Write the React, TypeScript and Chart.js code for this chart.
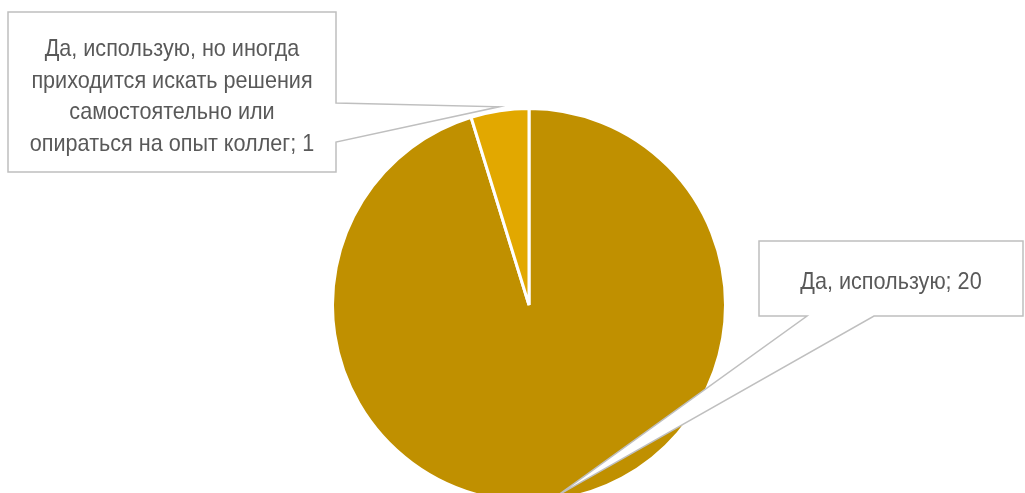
import React, { useEffect, useRef } from "react";
import { Chart, registerables } from "chart.js";

Chart.register(...registerables);

const categories = [
  "Да, использую",
  "Да, использую, но иногда приходится искать решения самостоятельно или опираться на опыт коллег",
];
const values = [20, 1];
const colors = ["#C09000", "#E2A800"];
const labelLines = [
  ["Да, использую; 20"],
  ["Да, использую, но иногда", "приходится искать решения", "самостоятельно или", "опираться на опыт коллег; 1"],
];

export default function App() {
  const ref = useRef<HTMLCanvasElement>(null);
  useEffect(() => {
    if (!ref.current) return;
    const callouts = {
      id: "callouts",
      afterDraw(chart: any) {
        const ctx = chart.ctx;
        const meta = chart.getDatasetMeta(0);
        const boxes = [
          { x: 759, y: 241, w: 264, h: 75, base: [807, 874], side: "bottom", tipR: 0.98, dy: 4 },
          { x: 8, y: 12, w: 328, h: 160, base: [103, 142], side: "right", tipR: 1.02, dy: 5 },
        ];
        ctx.save();
        meta.data.forEach((arc: any, i: number) => {
          const b = boxes[i];
          const mid = (arc.startAngle + arc.endAngle) / 2;
          const tx = arc.x + Math.cos(mid) * arc.outerRadius * b.tipR;
          const ty = arc.y + Math.sin(mid) * arc.outerRadius * b.tipR;
          ctx.beginPath();
          if (b.side === "bottom") {
            ctx.moveTo(b.x, b.y);
            ctx.lineTo(b.x + b.w, b.y);
            ctx.lineTo(b.x + b.w, b.y + b.h);
            ctx.lineTo(b.base[1], b.y + b.h);
            ctx.lineTo(tx, ty);
            ctx.lineTo(b.base[0], b.y + b.h);
            ctx.lineTo(b.x, b.y + b.h);
          } else {
            ctx.moveTo(b.x, b.y);
            ctx.lineTo(b.x + b.w, b.y);
            ctx.lineTo(b.x + b.w, b.base[0]);
            ctx.lineTo(tx, ty);
            ctx.lineTo(b.x + b.w, b.base[1]);
            ctx.lineTo(b.x + b.w, b.y + b.h);
            ctx.lineTo(b.x, b.y + b.h);
          }
          ctx.closePath();
          ctx.fillStyle = "#FFFFFF";
          ctx.fill();
          ctx.strokeStyle = "#BFBFBF";
          ctx.lineWidth = 1.5;
          ctx.stroke();
          ctx.fillStyle = "#595959";
          ctx.font = "24px 'Liberation Sans', Arial";
          ctx.textAlign = "center";
          ctx.textBaseline = "middle";
          const lines = labelLines[i];
          const lh = 31.7;
          const cx = b.x + b.w / 2;
          const cy = b.y + b.h / 2 - ((lines.length - 1) * lh) / 2 + b.dy;
          lines.forEach((t, k) => {
            ctx.save();
            ctx.translate(cx, cy + k * lh);
            ctx.scale(0.9, 1);
            ctx.fillText(t, 0, 0);
            ctx.restore();
          });
        });
        ctx.restore();
      },
    };
    const chart = new Chart(ref.current, {
      type: "pie",
      data: {
        labels: categories,
        datasets: [
          {
            data: values,
            backgroundColor: colors,
            borderColor: "#FFFFFF",
            borderWidth: 3,
          },
        ],
      },
      options: {
        animation: false,
        responsive: false,
        maintainAspectRatio: false,
        layout: { padding: { left: 331, right: 298, top: 107, bottom: 0 } },
        plugins: {
          legend: { display: false },
          tooltip: { enabled: false },
        },
      },
      plugins: [callouts],
    });
    return () => chart.destroy();
  }, []);
  return (
    <div style={{ position: "absolute", left: 0, top: 0, width: 1025, height: 493, overflow: "hidden", background: "#fff" }}>
      <canvas ref={ref} width={1025} height={503} style={{ width: 1025, height: 503, display: "block" }} />
    </div>
  );
}
